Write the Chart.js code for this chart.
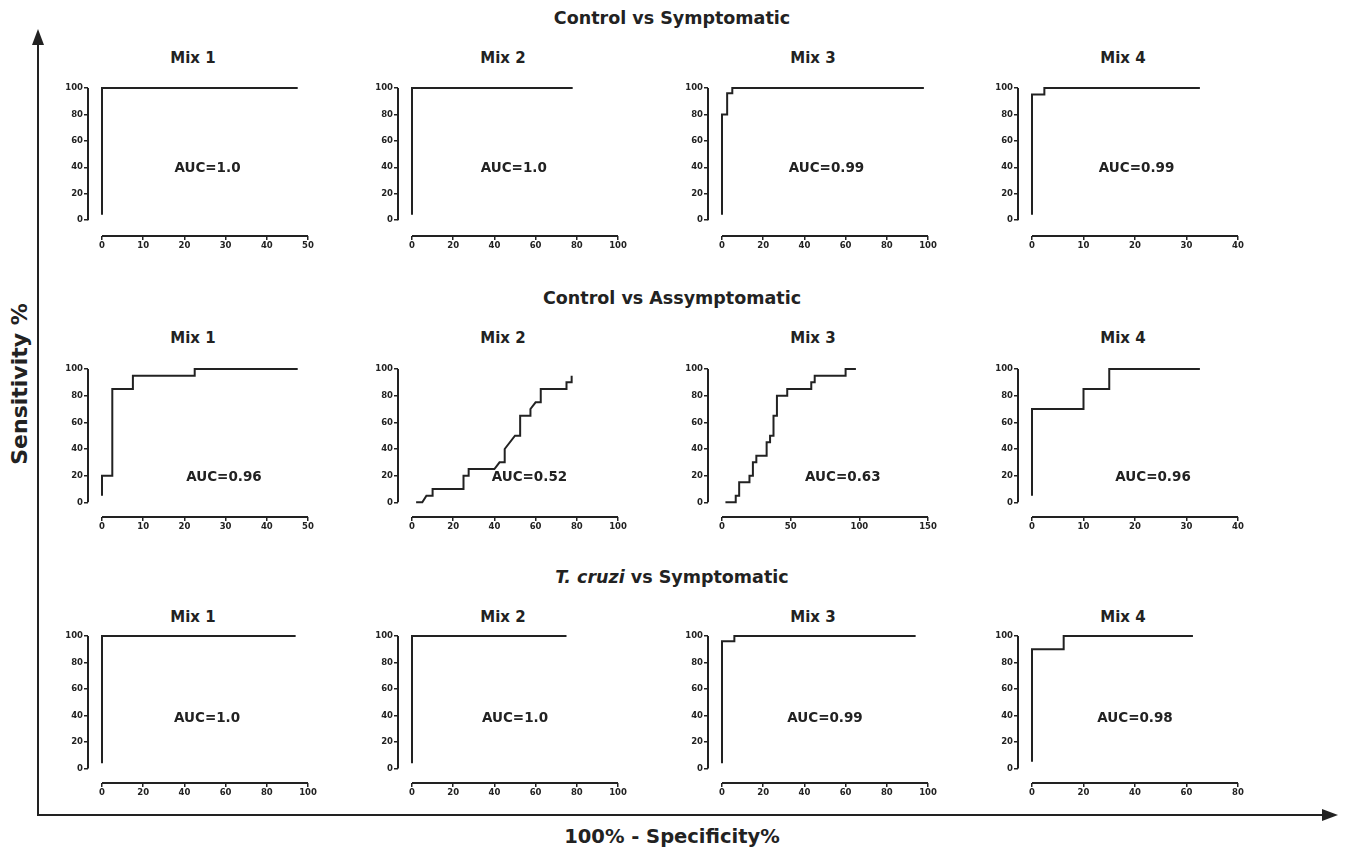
<!DOCTYPE html>
<html>
<head>
<meta charset="utf-8">
<script src="https://cdn.jsdelivr.net/npm/chart.js@4.4.1/dist/chart.umd.min.js"></script>
<style>
  body { margin: 0; background: #fff; }
  #page { position: relative; width: 1345px; height: 850px; overflow: hidden; font-family: "DejaVu Sans", Arial, sans-serif; color: #222; }
  .txt { position: absolute; font-weight: bold; white-space: nowrap; transform: translate(-50%, -50%); }
  .row-title { font-size: 17.5px; }
  .mix { font-size: 15px; }
  canvas { position: absolute; }
  .bar { position: absolute; background: #222; }
  .tri { position: absolute; width: 0; height: 0; }
</style>
</head>
<body>
<div id="page">
  <div class="bar" style="left:37px; top:42px; width:2px; height:774px;"></div>
  <div class="tri" style="left:32px; top:29px; border-left:6px solid transparent; border-right:6px solid transparent; border-bottom:16px solid #222;"></div>
  <div class="bar" style="left:37px; top:814px; width:1288px; height:2px;"></div>
  <div class="tri" style="left:1322px; top:809px; border-top:6px solid transparent; border-bottom:6px solid transparent; border-left:16px solid #222;"></div>
  <div class="txt" style="left:19px; top:384px; font-size:22px; transform: translate(-50%, -50%) rotate(-90deg);">Sensitivity %</div>
  <div class="txt" style="left:672px; top:836px; font-size:19.5px;">100% - Specificity%</div>
</div>
<script>
// one panel per ROC curve, row by row (3 comparisons x 4 mixes)
const rowTitles = ['Control vs Symptomatic', 'Control vs Assymptomatic', '<i>T. cruzi</i> vs Symptomatic'];
const mixNames = ['Mix 1', 'Mix 2', 'Mix 3', 'Mix 4'];

const xMaxes = [50, 100, 100, 40, 50, 100, 150, 40, 100, 100, 100, 80];
const xSteps = [10, 20, 20, 10, 10, 20, 50, 10, 20, 20, 20, 20];
const yTicks = [0, 20, 40, 60, 80, 100];
const aucLabels = ['AUC=1.0', 'AUC=1.0', 'AUC=0.99', 'AUC=0.99',
                   'AUC=0.96', 'AUC=0.52', 'AUC=0.63', 'AUC=0.96',
                   'AUC=1.0', 'AUC=1.0', 'AUC=0.99', 'AUC=0.98'];

// 100% - specificity (x) and sensitivity (y) for each curve
const fpr = [
  [0, 0, 47.5],
  [0, 0, 78],
  [0, 0, 2.5, 2.5, 5, 5, 98],
  [0, 0, 2.4, 2.4, 32.6],
  [0, 0, 2.5, 2.5, 7.5, 7.5, 22.5, 22.5, 47.5],
  [2, 5, 7, 10, 10, 25, 25, 27.5, 27.5, 40, 42.5, 45, 45, 50, 52.5, 52.5, 57.5, 57.5, 60, 62.5, 62.5, 75, 75, 77.5, 77.5],
  [2.5, 10, 10, 12.5, 12.5, 20, 20, 22.5, 22.5, 25, 25, 32.5, 32.5, 35, 35, 37.5, 37.5, 40, 40, 47.5, 47.5, 65, 65, 67.5, 67.5, 90, 90, 97.5],
  [0, 0, 10, 10, 15, 15, 32.6],
  [0, 0, 94],
  [0, 0, 75],
  [0, 0, 6, 6, 94],
  [0, 0, 12.3, 12.3, 62.5]
];
const sens = [
  [4, 100, 100],
  [4, 100, 100],
  [4, 80, 80, 96, 96, 100, 100],
  [4, 95, 95, 100, 100],
  [5, 20, 20, 85, 85, 95, 95, 100, 100],
  [0, 0, 5, 5, 10, 10, 20, 20, 25, 25, 30, 30, 40, 50, 50, 65, 65, 70, 75, 75, 85, 85, 90, 90, 95],
  [0, 0, 5, 5, 15, 15, 20, 20, 30, 30, 35, 35, 45, 45, 50, 50, 65, 65, 80, 80, 85, 85, 90, 90, 95, 95, 100, 100],
  [5, 70, 70, 85, 85, 100, 100],
  [4, 100, 100],
  [4, 100, 100],
  [4, 96, 96, 100, 100],
  [5, 90, 90, 100, 100]
];

// layout (pixels) and where the AUC text sits in data units
const colAxisX = [88, 398, 708, 1018];
const rowTop = [88, 369, 636];
const rowAxisY = [236, 517, 783];
const rowYMin = [-12, -11, -11];
const rowTitleY = [18, 298, 577];
const mixTitleY = [58, 338, 617];
const aucAt = [[25.6, 39], [49.4, 39], [50.7, 39], [20.3, 39],
               [29.6, 19], [57, 19], [88, 19], [23.5, 19],
               [51, 38], [50, 38], [50, 38], [40, 38]];

const ink = '#222';
const fontFamily = '"DejaVu Sans", Arial, sans-serif';
const page = document.getElementById('page');

const rocAxes = {
  id: 'rocAxes',
  afterDraw(chart, args, opts) {
    const { ctx, chartArea, scales: { x, y } } = chart;
    ctx.save();
    ctx.strokeStyle = ink;
    ctx.lineWidth = 2;
    ctx.beginPath();
    ctx.moveTo(chartArea.left, y.getPixelForValue(0));
    ctx.lineTo(chartArea.left, y.getPixelForValue(100));
    ctx.moveTo(x.getPixelForValue(0), chartArea.bottom);
    ctx.lineTo(x.getPixelForValue(x.max), chartArea.bottom);
    ctx.stroke();
    ctx.fillStyle = ink;
    ctx.font = 'bold 13.5px ' + fontFamily;
    ctx.textAlign = 'center';
    ctx.textBaseline = 'middle';
    ctx.fillText(opts.text, x.getPixelForValue(opts.at[0]), y.getPixelForValue(opts.at[1]));
    ctx.restore();
  }
};

function addText(html, cls, left, top) {
  const d = document.createElement('div');
  d.className = 'txt ' + cls;
  d.style.left = left + 'px';
  d.style.top = top + 'px';
  d.innerHTML = html;
  page.appendChild(d);
}

rowTitles.forEach((t, r) => addText(t, 'row-title', 672, rowTitleY[r]));

for (let r = 0; r < 3; r++) {
  for (let c = 0; c < 4; c++) {
    const i = r * 4 + c;
    const axisX = colAxisX[c];
    addText(mixNames[c], 'mix', axisX + 105, mixTitleY[r]);

    const cv = document.createElement('canvas');
    const w = 36 + 220 + 12;
    const h = (rowAxisY[r] - rowTop[r]) + 8 + 22;
    cv.width = w; cv.height = h;
    cv.style.width = w + 'px'; cv.style.height = h + 'px';
    cv.style.left = (axisX - 36) + 'px';
    cv.style.top = (rowTop[r] - 8) + 'px';
    page.appendChild(cv);

    const xTicks = [];
    for (let v = 0; v <= xMaxes[i]; v += xSteps[i]) xTicks.push(v);

    const tickFont = { family: fontFamily, weight: 'bold', size: 8.5 };
    new Chart(cv, {
      type: 'line',
      data: {
        datasets: [{
          data: fpr[i].map((v, k) => ({ x: v, y: sens[i][k] })),
          borderColor: ink,
          borderWidth: 2,
          pointRadius: 0,
          fill: false,
          tension: 0,
          clip: false
        }]
      },
      options: {
        responsive: false,
        animation: false,
        layout: { padding: { top: 8, right: 12, left: 0, bottom: 0 } },
        plugins: {
          legend: { display: false },
          tooltip: { enabled: false },
          rocAxes: { text: aucLabels[i], at: aucAt[i] }
        },
        scales: {
          x: {
            type: 'linear',
            min: -xMaxes[i] * 14 / 206,
            max: xMaxes[i],
            afterFit: s => { s.height = 22; },
            afterBuildTicks: s => { s.ticks = xTicks.map(v => ({ value: v })); },
            ticks: { color: ink, font: tickFont, padding: 1, maxRotation: 0, autoSkip: false },
            grid: { drawOnChartArea: false, drawTicks: true, tickLength: 4, color: ink, lineWidth: 1.5 },
            border: { display: false }
          },
          y: {
            min: rowYMin[r],
            max: 100,
            afterFit: s => { s.width = 36; },
            afterBuildTicks: s => { s.ticks = yTicks.map(v => ({ value: v })); },
            ticks: { color: ink, font: tickFont, padding: 1 },
            grid: { drawOnChartArea: false, drawTicks: true, tickLength: 4, color: ink, lineWidth: 1.5 },
            border: { display: false }
          }
        }
      },
      plugins: [rocAxes]
    });
  }
}
</script>
</body>
</html>
